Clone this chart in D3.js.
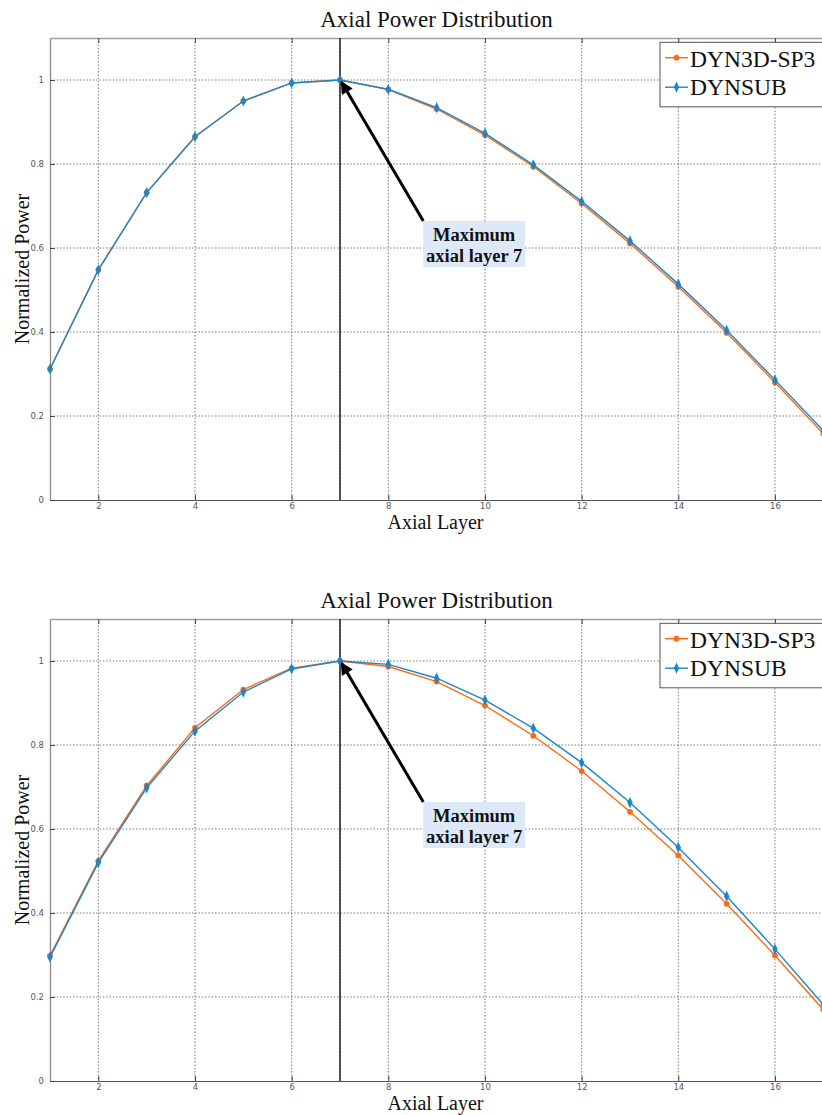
<!DOCTYPE html>
<html>
<head>
<meta charset="utf-8">
<script src="https://cdn.jsdelivr.net/npm/d3@7"></script>
<style>
  html, body { margin: 0; padding: 0; background: #fff; }
  svg { display: block; }
</style>
</head>
<body>
<svg id="chart" width="822" height="1115"></svg>
<script>
// Axial layers (x values)
const layers = [1, 2, 3, 4, 5, 6, 7, 8, 9, 10, 11, 12, 13, 14, 15, 16, 17];

// Upper panel: normalized power per layer
const upperDyn3d  = [0.312, 0.548, 0.732, 0.865, 0.950, 0.993, 1.000, 0.977, 0.931, 0.869, 0.794, 0.706, 0.611, 0.508, 0.398, 0.280, 0.158];
const upperDynsub = [0.312, 0.548, 0.732, 0.865, 0.950, 0.993, 1.000, 0.978, 0.934, 0.873, 0.798, 0.711, 0.617, 0.514, 0.404, 0.286, 0.165];

// Lower panel: normalized power per layer
const lowerDyn3d  = [0.298, 0.524, 0.703, 0.841, 0.932, 0.983, 1.000, 0.987, 0.951, 0.894, 0.822, 0.738, 0.641, 0.537, 0.422, 0.299, 0.170];
const lowerDynsub = [0.295, 0.520, 0.698, 0.833, 0.926, 0.981, 1.000, 0.992, 0.959, 0.907, 0.840, 0.758, 0.663, 0.556, 0.440, 0.314, 0.182];

const seriesNames = ["DYN3D-SP3", "DYNSUB"];
const xTicks = [2, 4, 6, 8, 10, 12, 14, 16];
const yTicks = [0, 0.2, 0.4, 0.6, 0.8, 1];
const peakLayer = 7;
const peakValue = 1.0;
const titleText = "Axial Power Distribution";
const xLabelText = "Axial Layer";
const yLabelText = "Normalized Power";
const noteLines = ["Maximum", "axial layer 7"];

const colors = ["#ff6a13", "#1b87c9"];
const serif = "'Liberation Serif', 'Times New Roman', serif";
const svg = d3.select("#chart");

svg.append("defs").append("marker")
  .attr("id", "arrowhead")
  .attr("viewBox", "0 0 10 10")
  .attr("refX", 9).attr("refY", 5)
  .attr("markerWidth", 5.2).attr("markerHeight", 4.2)
  .attr("markerUnits", "strokeWidth")
  .attr("orient", "auto")
  .append("path")
  .attr("d", "M0,0 L10,5 L0,10 Z")
  .attr("fill", "#000");

function markerSymbol(si) {
  return si === 0
    ? d3.symbol().type(d3.symbolCircle).size(26)
    : d3.symbol().type(d3.symbolDiamond).size(30);
}

function drawPanel(top, dyn3d, dynsub) {
  const left = 50, right = 823.3, bottom = top + 462;
  const x = d3.scaleLinear().domain([1, 17]).range([left, right]);
  const y = d3.scaleLinear().domain([0, 1.1]).range([bottom, top]);
  const g = svg.append("g");

  // dotted grid
  g.append("g").selectAll("line").data(xTicks.concat([peakLayer])).join("line")
    .attr("x1", d => x(d)).attr("x2", d => x(d))
    .attr("y1", top).attr("y2", bottom)
    .attr("stroke", "#555").attr("stroke-width", 0.8)
    .attr("stroke-dasharray", "1.5,1.8");
  g.append("g").selectAll("line").data(yTicks.slice(1)).join("line")
    .attr("x1", left).attr("x2", right)
    .attr("y1", d => y(d)).attr("y2", d => y(d))
    .attr("stroke", "#555").attr("stroke-width", 0.8)
    .attr("stroke-dasharray", "1.5,1.8");

  // axes with inward ticks
  const xAxis = g.append("g").attr("transform", `translate(0,${bottom})`)
    .call(d3.axisBottom(x).tickValues(xTicks).tickSizeInner(-5).tickSizeOuter(0).tickPadding(3)
      .tickFormat(d3.format("d")));
  const xTop = g.append("g").attr("transform", `translate(0,${top})`)
    .call(d3.axisTop(x).tickValues(xTicks).tickSizeInner(-5).tickSizeOuter(0).tickFormat(""));
  const yAxis = g.append("g").attr("transform", `translate(${left},0)`)
    .call(d3.axisLeft(y).tickValues(yTicks).tickSizeInner(-5).tickSizeOuter(0).tickPadding(6)
      .tickFormat(d => d3.format("")(d)));
  [xAxis, yAxis].forEach(a => {
    a.selectAll("text").attr("font-family", "'DejaVu Sans', sans-serif")
      .attr("font-size", 8.5).attr("fill", "#555");
    a.selectAll(".tick line").attr("stroke", "#444");
  });
  xAxis.select(".domain").attr("stroke", "#555").attr("stroke-width", 1.2);
  yAxis.select(".domain").attr("stroke", "#8a8a8a").attr("stroke-width", 1.3);
  xTop.select(".domain").attr("stroke", "#a0a0a0").attr("stroke-width", 1.6);
  xTop.selectAll(".tick line").attr("stroke", "#444");

  // vertical marker at the peak layer
  g.append("line")
    .attr("x1", x(peakLayer)).attr("x2", x(peakLayer))
    .attr("y1", top).attr("y2", bottom)
    .attr("stroke", "#111").attr("stroke-width", 1.4);

  // series lines and markers
  const line = d3.line().x((d, i) => x(layers[i])).y(d => y(d));
  [dyn3d, dynsub].forEach((vals, si) => {
    g.append("path").datum(vals)
      .attr("d", line).attr("fill", "none")
      .attr("stroke", colors[si]).attr("stroke-width", 1.4);
    g.append("g").selectAll("path").data(vals).join("path")
      .attr("d", markerSymbol(si))
      .attr("transform", (d, i) => `translate(${x(layers[i])},${y(d)})` + (si === 1 ? " scale(0.9,1.1)" : ""))
      .attr("fill", colors[si]);
  });

  // title and axis labels
  g.append("text").attr("x", 436.5).attr("y", top - 11)
    .attr("text-anchor", "middle")
    .attr("font-family", serif)
    .attr("font-size", 23).attr("fill", "#111").text(titleText);
  g.append("text").attr("x", 435.5).attr("y", bottom + 29)
    .attr("text-anchor", "middle")
    .attr("font-family", serif)
    .attr("font-size", 20).attr("fill", "#111").text(xLabelText);
  g.append("text")
    .attr("transform", `translate(29,${(top + bottom) / 2}) rotate(-90)`)
    .attr("text-anchor", "middle")
    .attr("font-family", serif)
    .attr("font-size", 20).attr("fill", "#111").text(yLabelText);

  // annotation box and arrow
  const boxX = 423.3, boxY = top + 183, boxW = 101.7, boxH = 46;
  g.append("rect").attr("x", boxX).attr("y", boxY)
    .attr("width", boxW).attr("height", boxH).attr("fill", "#dde9f8");
  noteLines.forEach((t, i) => {
    g.append("text").attr("x", boxX + boxW / 2).attr("y", boxY + 19.5 + i * 21)
      .attr("text-anchor", "middle")
      .attr("font-family", serif)
      .attr("font-weight", "bold").attr("font-size", 18.5).attr("fill", "#111").text(t);
  });
  g.append("line")
    .attr("x1", boxX).attr("y1", boxY)
    .attr("x2", x(peakLayer) + 1.5).attr("y2", y(peakValue) + 2)
    .attr("stroke", "#000").attr("stroke-width", 3)
    .attr("marker-end", "url(#arrowhead)");

  // legend
  const lgX = 660, lgY = top + 4.3, lgW = 165, lgH = 64.5;
  const lg = g.append("g");
  lg.append("rect").attr("x", lgX).attr("y", lgY).attr("width", lgW).attr("height", lgH)
    .attr("fill", "#fff").attr("stroke", "#555").attr("stroke-width", 1);
  seriesNames.forEach((name, i) => {
    const ly = top + 19.7 + i * 29.5;
    lg.append("line").attr("x1", 665).attr("x2", 688).attr("y1", ly).attr("y2", ly)
      .attr("stroke", colors[i]).attr("stroke-width", 1.4);
    lg.append("path").attr("d", markerSymbol(i))
      .attr("transform", `translate(676.5,${ly})` + (i === 1 ? " scale(0.9,1.1)" : ""))
      .attr("fill", colors[i]);
    lg.append("text").attr("x", 690).attr("y", top + 28.5 + i * 28.3)
      .attr("font-family", serif)
      .attr("font-size", 23.5).attr("fill", "#111").text(name);
  });
}

drawPanel(38, upperDyn3d, upperDynsub);
drawPanel(619, lowerDyn3d, lowerDynsub);
</script>
</body>
</html>
